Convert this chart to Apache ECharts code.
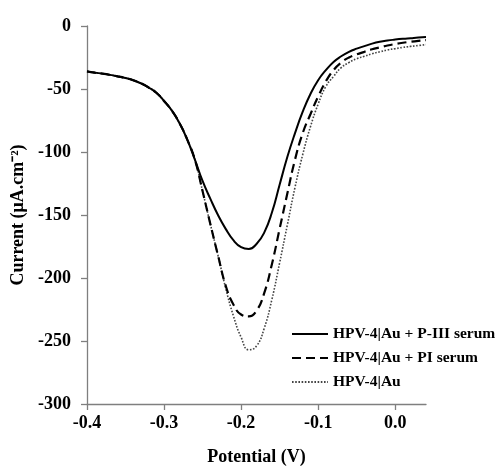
<!DOCTYPE html>
<html>
<head>
<meta charset="utf-8">
<script src="https://cdn.jsdelivr.net/npm/echarts@6/dist/echarts.min.js"></script>
<style>html,body{margin:0;padding:0;background:#fff}#c{width:502px;height:471px}</style>
</head>
<body>
<div id="c"></div>
<script>
const potential = [-0.40,-0.39,-0.38,-0.37,-0.36,-0.35,-0.34,-0.33,-0.32,-0.31,-0.30,-0.29,-0.28,-0.27,-0.26,-0.25,-0.24,-0.23,-0.22,-0.21,-0.20,-0.19,-0.18,-0.17,-0.16,-0.15,-0.14,-0.13,-0.12,-0.11,-0.10,-0.09,-0.08,-0.07,-0.06,-0.05,-0.04,-0.03,-0.02,-0.01,0.00,0.01,0.02,0.03,0.04];
const commonStart = [-36,-37,-37.8,-38.8,-40,-41.3,-43,-45.5,-48.8,-53,-59.5,-67,-77,-90,-106];
const pIIISerum = commonStart.concat([-123,-137,-150,-161,-170,-175.5,-177,-173,-164,-148,-126,-104,-85,-68,-54,-43,-35,-28.5,-24,-20.5,-18,-16,-14,-12.5,-11.5,-10.8,-10.2,-9.7,-9.2,-8.8]);
const piSerum = commonStart.concat([-131,-157,-182,-206,-221,-229,-230.5,-226,-212,-189,-161,-133,-106,-85,-70,-56,-44,-35,-29,-25,-22.5,-20.5,-18.5,-17,-15.5,-14.3,-13.3,-12.5,-11.8,-11.2]);
const bare = commonStart.concat([-131,-157,-182,-208,-230,-247,-257,-254,-240,-217,-188,-158,-128,-102,-80,-62,-48,-40,-33,-29,-26,-24,-22,-20.5,-19,-18,-17,-16.2,-15.5,-14.8]);
const seriesNames = ['HPV-4|Au + P-III serum','HPV-4|Au + PI serum','HPV-4|Au'];
const yTicks = [0,-50,-100,-150,-200,-250,-300];

const font = 'Liberation Serif';
const pair = arr => potential.map((v,i)=>[v,arr[i]]);
const chart = echarts.init(document.getElementById('c'), null, {renderer:'canvas'});
chart.setOption({
  animation:false,
  grid:{left:87,right:76,top:26,bottom:62},
  xAxis:{type:'value',min:-0.4,max:0.04,interval:0.1,
    axisLine:{onZero:false,lineStyle:{color:'#7f7f7f',width:1.3}},
    axisTick:{show:true,length:6,lineStyle:{color:'#7f7f7f',width:1.3}},
    splitLine:{show:false},
    axisLabel:{showMaxLabel:false,margin:10,color:'#000',fontFamily:font,fontWeight:'bold',fontSize:18,
      formatter:v=>Math.abs(v)<1e-9?'0.0':v.toFixed(1)},
    name:'Potential (V)',nameLocation:'middle',nameGap:44,
    nameTextStyle:{color:'#000',fontFamily:font,fontWeight:'bold',fontSize:18}},
  yAxis:{type:'value',min:yTicks[yTicks.length-1],max:yTicks[0],interval:50,
    axisLine:{onZero:false,lineStyle:{color:'#7f7f7f',width:1.3}},
    axisTick:{show:true,length:6,lineStyle:{color:'#7f7f7f',width:1.3}},
    splitLine:{show:false},
    axisLabel:{margin:16,color:'#000',fontFamily:font,fontWeight:'bold',fontSize:18},
    name:'Current (μA.cm⁻²)',nameLocation:'middle',nameGap:60,
    nameTextStyle:{color:'#000',fontFamily:font,fontWeight:'bold',fontSize:18}},
  legend:{orient:'vertical',left:286,top:321,itemWidth:36,itemHeight:14,itemGap:8,
    itemStyle:{opacity:0},
    textStyle:{color:'#000',fontFamily:font,fontWeight:'bold',fontSize:15.5},
    data:seriesNames},
  series:[
    {name:seriesNames[2],type:'line',data:pair(bare),smooth:0.5,symbol:'none',
      lineStyle:{color:'#444',width:1.6,type:[1.6,1.6]},itemStyle:{color:'#444'}},
    {name:seriesNames[1],type:'line',data:pair(piSerum),smooth:0.5,symbol:'none',
      lineStyle:{color:'#000',width:2.2,type:[9,5]},itemStyle:{color:'#000'}},
    {name:seriesNames[0],type:'line',data:pair(pIIISerum),smooth:0.5,symbol:'none',
      lineStyle:{color:'#000',width:2},itemStyle:{color:'#000'}}
  ]
});
</script>
</body>
</html>
